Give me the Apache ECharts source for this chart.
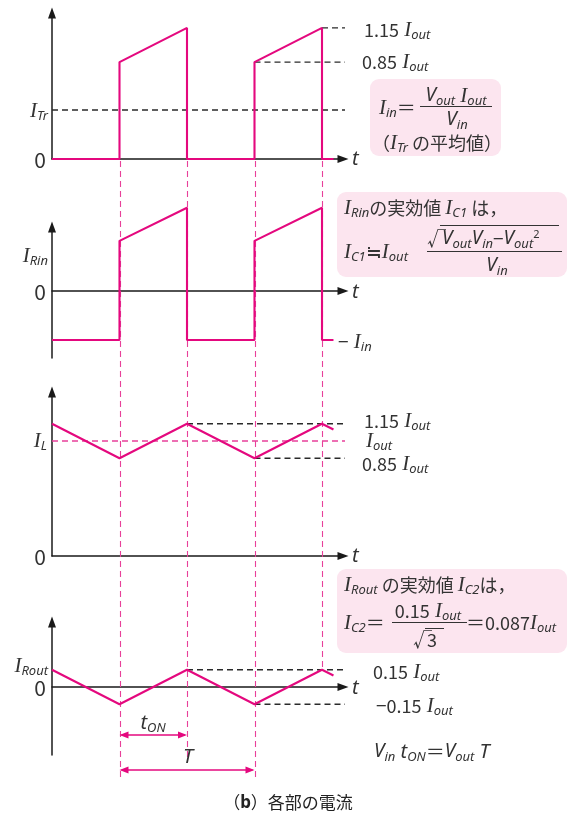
<!DOCTYPE html>
<html><head><meta charset="utf-8">
<script src="https://cdn.jsdelivr.net/npm/echarts@6/dist/echarts.min.js"></script>
<style>html,body{margin:0;padding:0;background:#fff}#c{width:576px;height:817px}</style>
</head><body><div id="c"></div>
<script>
// ---------- data (time in units of tON, current in units of Iout) ----------
const switchTimes = [1, 2, 3, 4];
const pulseT = [0, 1, 1, 2, 2, 3, 3, 4, 4, 4.17];
const itrV   = [0, 0, 0.85, 1.15, 0, 0, 0.85, 1.15, 0, 0];
const irinV  = [-0.43, -0.43, 0.44, 0.73, -0.43, -0.43, 0.44, 0.73, -0.43, -0.43];
const triT   = [0, 1, 2, 3, 4, 4.17];
const ilV    = [1.15, 0.85, 1.15, 0.85, 1.15, 1.10];
const iroutV = [0.15, -0.15, 0.15, -0.15, 0.15, 0.10];
const itrAvg = 0.43;
const iOut = 1.0;
const ripple = [1.15, 0.85];
const routPeaks = [0.15, -0.15];
const refEnd = 4.56;
const refEnd4 = 4.68;

// ---------- style ----------
const PINK = '#e4087e', PINKD = '#e8409a', TC = '#333', AXC = '#1a1a1a', DK = '#2a2a2a';
const JP = '"Noto Sans CJK JP", "Noto Sans", sans-serif';
const SERIF = '"Liberation Serif", "DejaVu Serif", serif';
const SANS = '"Noto Sans", "DejaVu Sans", sans-serif';

const grids = [
  {left:52, top:13,  width:291, height:146},
  {left:52, top:227, width:291, height:131},
  {left:52, top:392, width:291, height:164},
  {left:52, top:622, width:291, height:133}
];
const yRanges = [[0, 146/114], [-67/114, 64/114], [0, 164/115], [-68/115, 65/115]];
const X_MAX = 291/67.5;

const axisLine = {onZero:true, lineStyle:{color:AXC, width:1.5}, symbol:['none','triangle'], symbolSize:[8,11]};
const xAxis = grids.map((g,i)=>({type:'value', gridIndex:i, min:0, max:X_MAX, axisLine,
  axisTick:{show:false}, axisLabel:{show:false}, splitLine:{show:false}}));
const yAxis = grids.map((g,i)=>({type:'value', gridIndex:i, min:yRanges[i][0], max:yRanges[i][1], axisLine,
  axisTick:{show:false}, axisLabel:{show:false}, splitLine:{show:false}}));

function zip(xs, ys){ return xs.map((x,i)=>[x, ys[i]]); }
function wave(i, data){ return {type:'line', xAxisIndex:i, yAxisIndex:i, data, symbol:'none', clip:false,
  lineStyle:{color:PINK, width:2.1}, z:5, silent:true, animation:false}; }
function dash(i, x0, x1, y, color, w){ return {type:'line', xAxisIndex:i, yAxisIndex:i, data:[[x0,y],[x1,y]],
  symbol:'none', clip:false, lineStyle:{color, width:w, type:[6,4]}, z:3, silent:true, animation:false}; }

const series = [
  wave(0, zip(pulseT, itrV)),
  wave(1, zip(pulseT, irinV)),
  wave(2, zip(triT, ilV)),
  wave(3, zip(triT, iroutV)),
  dash(0, 0, refEnd, itrAvg, DK, 1.4),
  dash(0, switchTimes[2], refEnd, ripple[1], DK, 1.4),
  dash(0, switchTimes[3], refEnd, ripple[0], DK, 1.4),
  dash(2, 0, refEnd, iOut, PINKD, 1.3),
  dash(2, switchTimes[1], refEnd, ripple[0], DK, 1.4),
  dash(2, switchTimes[2], refEnd, ripple[1], DK, 1.4),
  dash(3, switchTimes[1], refEnd4, routPeaks[0], DK, 1.4),
  dash(3, switchTimes[2], refEnd4, routPeaks[1], DK, 1.4)
];

const chart = echarts.init(document.getElementById('c'), null, {renderer:'canvas'});
chart.setOption({animation:false, backgroundColor:'#fff', grid:grids, xAxis, yAxis, series});

// ---------- annotations ----------
const RICH = {
  n:  {fontFamily:JP, fontSize:18, fill:TC, color:TC},
  j:  {fontFamily:JP, fontSize:18, fill:TC, color:TC},
  z:  {fontFamily:JP, fontSize:21, fill:TC, color:TC},
  e:  {fontFamily:JP, fontSize:19, fill:TC, color:TC},
  I:  {fontFamily:SERIF, fontStyle:'italic', fontSize:21, fill:TC, color:TC},
  V:  {fontFamily:SANS, fontStyle:'italic', fontSize:19, fill:TC, color:TC},
  t:  {fontFamily:SANS, fontStyle:'italic', fontSize:20, fill:TC, color:TC},
  s:  {fontFamily:SANS, fontStyle:'italic', fontSize:13, fill:TC, color:TC, padding:[10,0,0,0]},
  sup:{fontFamily:SANS, fontSize:11, fill:TC, color:TC, padding:[0,0,9,0]},
  b:  {fontFamily:SANS, fontWeight:'bold', fontSize:17, fill:'#222', color:'#222'},
  ti: {fontFamily:JP, fontSize:17, fill:'#222', color:'#222'}
};
function txt(x, y, text, align){
  align = align || 'left';
  return {type:'text', x, y, z:10, silent:true, style:{text, align, textAlign:align,
    verticalAlign:'middle', textVerticalAlign:'middle', rich:RICH, fill:TC, fontFamily:JP, fontSize:17}};
}
function hline(x1, x2, y, color, w, dashArr, z){
  return {type:'line', z:z||8, silent:true, shape:{x1, y1:y, x2, y2:y},
    style:{stroke:color, lineWidth:w, lineDash:dashArr||null}};
}
function box(x, y, w, h){
  return {type:'rect', z:1, silent:true, shape:{x, y, width:w, height:h, r:9}, style:{fill:'#fce5ef'}};
}

const px = t => chart.convertToPixel({xAxisIndex:3}, t);
const py = (i, v) => chart.convertToPixel({yAxisIndex:i}, v);
const topY = py(0, 0) + 2;
const g = [];
// vertical guide lines
const bottoms = [777, 757, 777, py(3, routPeaks[0])];
switchTimes.forEach((t, k)=>{
  const x = Math.round(px(t)) + 0.5;
  g.push({type:'line', z:2, silent:true, shape:{x1:x, y1:topY, x2:x, y2:bottoms[k]},
    style:{stroke:PINKD, lineWidth:1.1, lineDash:[6,4]}});
});
// tON and T arrows
function arrow(x1, x2, y){
  g.push(hline(x1+2, x2-2, y, PINK, 1.3, null, 9));
  g.push({type:'polygon', z:9, silent:true, shape:{points:[[x1,y],[x1+9,y-3.5],[x1+9,y+3.5]]}, style:{fill:PINK}});
  g.push({type:'polygon', z:9, silent:true, shape:{points:[[x2,y],[x2-9,y-3.5],[x2-9,y+3.5]]}, style:{fill:PINK}});
}
arrow(px(switchTimes[0]), px(switchTimes[1]), 735);
arrow(px(switchTimes[0]), px(switchTimes[2]), 770);

// boxes
g.push(box(370, 79, 131, 77));
g.push(box(337, 192, 230, 85));
g.push(box(337, 569, 230, 84));

// panel 1 labels
g.push(txt(364, 30, '{n|1.15}{I| I}{s|out}'));
g.push(txt(362, 62, '{n|0.85}{I| I}{s|out}'));
g.push(txt(48, 111, '{I|I}{s|Tr}', 'right'));
g.push(txt(46, 160, '{z|0}', 'right'));
g.push(txt(352, 159, '{t|t}'));
// box 1
g.push(txt(379, 108, '{I|I}{s|in}{e|＝}'));
g.push(txt(456, 96, '{V|V}{s|out}{I| I}{s|out}', 'center'));
g.push(hline(420, 492, 106.5, TC, 1));
g.push(txt(457, 120, '{V|V}{s|in}', 'center'));
g.push(txt(372, 143, '{n|（}{I|I}{s|Tr}{n| の平均値）}'));

// panel 2 labels
g.push(txt(48, 256, '{I|I}{s|Rin}', 'right'));
g.push(txt(46, 292, '{z|0}', 'right'));
g.push(txt(352, 292, '{t|t}'));
g.push(txt(338, 342, '{e|−}{I| I}{s|in}'));
// box 2
g.push(txt(344, 208, '{I|I}{s|Rin}{j|の実効値 }{I|I}{s|C1}{j| は，}'));
g.push(txt(344, 252, '{I|I}{s|C1}{e|≒}{I|I}{s|out}'));
g.push(txt(427, 239, '{e|√}'));
g.push(hline(440, 559, 225.5, TC, 1));
g.push(txt(442, 239, '{V|V}{s|out}{V|V}{s|in}{e|−}{V|V}{s|out}{sup|2}'));
g.push(hline(427, 562, 251.5, TC, 1));
g.push(txt(497, 266, '{V|V}{s|in}', 'center'));

// panel 3 labels
g.push(txt(364, 421, '{n|1.15}{I| I}{s|out}'));
g.push(txt(366, 441, '{I|I}{s|out}'));
g.push(txt(362, 464, '{n|0.85}{I| I}{s|out}'));
g.push(txt(47, 441, '{I|I}{s|L}', 'right'));
g.push(txt(46, 557, '{z|0}', 'right'));
g.push(txt(352, 556, '{t|t}'));

// panel 4 labels
g.push(txt(48, 666, '{I|I}{s|Rout}', 'right'));
g.push(txt(46, 688, '{z|0}', 'right'));
g.push(txt(352, 688, '{t|t}'));
g.push(txt(373, 672, '{n|0.15}{I| I}{s|out}'));
g.push(txt(376, 706, '{e|−}{n|0.15}{I| I}{s|out}'));
g.push(txt(153, 723, '{t|t}{s|ON}', 'center'));
g.push(txt(188, 757, '{t|T}', 'center'));
g.push(txt(374, 752, '{V|V}{s|in}{t| t}{s|ON}{e|＝}{V|V}{s|out}{t| T}'));
// box 3
g.push(txt(344, 585, '{I|I}{s|Rout}{j| の実効値 }{I|I}{s|C2}{j|は，}'));
g.push(txt(344, 623, '{I|I}{s|C2}{e|＝}'));
g.push(txt(428, 611, '{n|0.15}{I| I}{s|out}', 'center'));
g.push(hline(392, 467, 622.5, TC, 1));
g.push(txt(413, 640, '{e|√}'));
g.push(hline(425, 444, 628.5, TC, 1));
g.push(txt(427, 640, '{n|3}'));
g.push(txt(466, 623, '{e|＝}{n|0.087}{I|I}{s|out}'));

// caption
g.push(txt(288, 803, '{ti|（}{b|b}{ti|）各部の電流}', 'center'));

chart.setOption({graphic:{elements:g}});
</script></body></html>
